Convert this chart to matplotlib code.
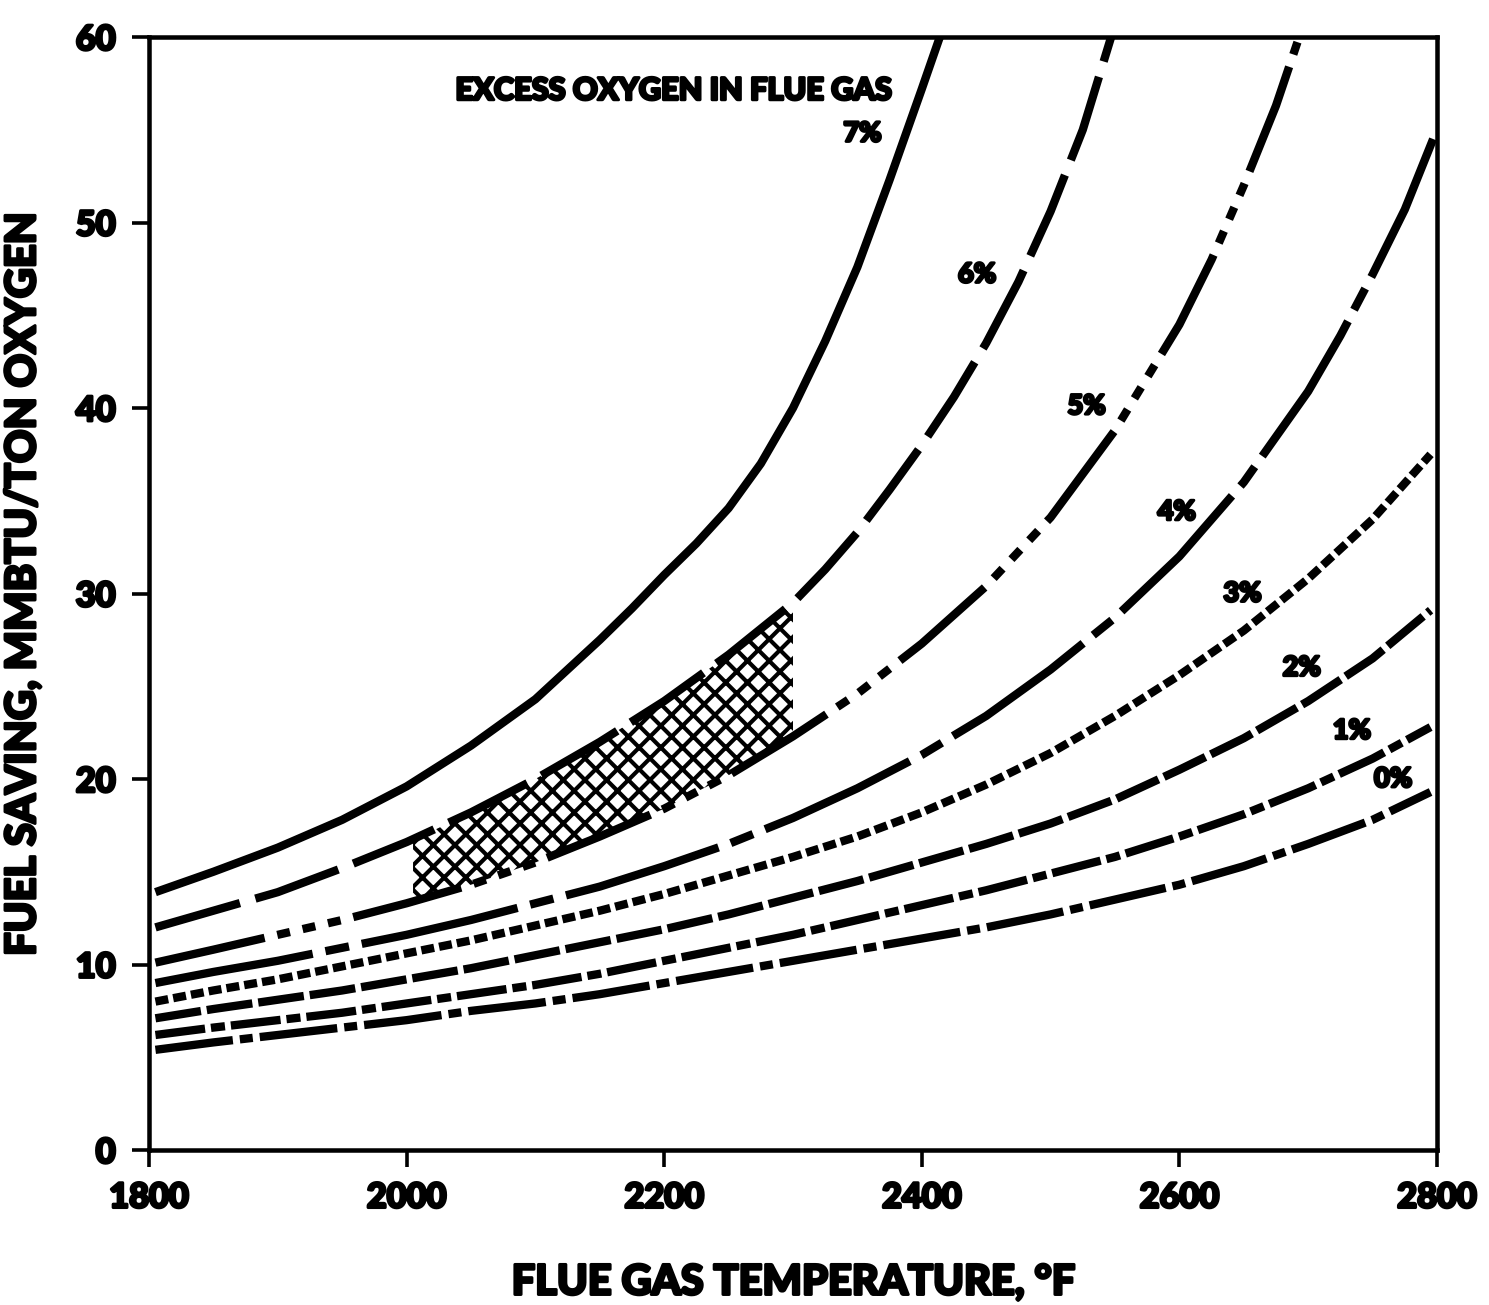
import matplotlib
matplotlib.use("Agg")
import matplotlib.pyplot as plt
import matplotlib.patheffects as pe

plt.rcParams["font.family"] = ["Lato", "DejaVu Sans"]
plt.rcParams["font.weight"] = "black"
plt.rcParams["axes.labelweight"] = "black"
plt.rcParams["hatch.linewidth"] = 2.3
plt.rcParams["lines.scale_dashes"] = False

# flue gas temperature (F) vs fuel saving (MMBtu/ton O2), per excess O2 level
temps = [1805, 1850, 1900, 1950, 2000, 2050, 2100, 2150, 2200, 2250, 2300,
         2350, 2400, 2450, 2500, 2550, 2600, 2650, 2700, 2750, 2795]
temp_7 = [1805, 1850, 1900, 1950, 2000, 2050, 2100, 2150, 2175, 2200, 2225,
          2250, 2275, 2300, 2325, 2350, 2375, 2400, 2414]
save_7 = [13.9, 15.0, 16.3, 17.8, 19.6, 21.8, 24.3, 27.5, 29.2, 31.0, 32.7,
          34.6, 37.0, 40.0, 43.6, 47.6, 52.3, 57.2, 60.0]
temp_6 = [1805, 1850, 1900, 1950, 2000, 2050, 2100, 2150, 2200, 2250, 2300,
          2325, 2350, 2375, 2400, 2425, 2450, 2475, 2500, 2525, 2547]
save_6 = [12.0, 12.9, 13.9, 15.2, 16.6, 18.2, 20.0, 22.0, 24.2, 26.7, 29.5,
          31.3, 33.3, 35.6, 38.0, 40.6, 43.5, 46.8, 50.6, 55.0, 60.0]
temp_5 = [1805, 1850, 1900, 1950, 2000, 2050, 2100, 2150, 2200, 2250, 2300,
          2350, 2400, 2450, 2500, 2550, 2600, 2625, 2650, 2675, 2693]
save_5 = [10.1, 10.8, 11.6, 12.4, 13.3, 14.3, 15.5, 16.9, 18.4, 20.2, 22.3,
          24.6, 27.3, 30.4, 34.1, 38.8, 44.5, 48.0, 52.0, 56.3, 60.0]
temp_4 = [1805, 1850, 1900, 1950, 2000, 2050, 2100, 2150, 2200, 2250, 2300,
          2350, 2400, 2450, 2500, 2550, 2600, 2650, 2700, 2725, 2750, 2775, 2797]
save_4 = [9.0, 9.6, 10.2, 10.9, 11.6, 12.4, 13.3, 14.2, 15.3, 16.5, 17.9,
          19.5, 21.3, 23.4, 25.9, 28.7, 32.0, 36.0, 40.9, 43.9, 47.2, 50.7, 54.5]
save_3 = [8.0, 8.6, 9.2, 9.9, 10.6, 11.3, 12.1, 12.9, 13.8, 14.8, 15.8,
          16.9, 18.2, 19.7, 21.4, 23.4, 25.6, 28.0, 30.8, 34.0, 37.5]
save_2 = [7.1, 7.6, 8.1, 8.6, 9.2, 9.8, 10.5, 11.2, 11.9, 12.7, 13.6,
          14.5, 15.5, 16.5, 17.6, 18.9, 20.5, 22.2, 24.2, 26.5, 29.1]
save_1 = [6.2, 6.6, 7.0, 7.4, 7.9, 8.4, 8.9, 9.5, 10.2, 10.9, 11.6,
          12.4, 13.2, 14.0, 14.9, 15.8, 16.9, 18.1, 19.5, 21.1, 22.8]
save_0 = [5.4, 5.8, 6.2, 6.6, 7.0, 7.5, 7.9, 8.4, 9.0, 9.6, 10.2,
          10.8, 11.4, 12.0, 12.7, 13.5, 14.3, 15.3, 16.5, 17.8, 19.3]

# cross-hatched operating zone between the 6% and 5% curves
hatch_temp = [2005, 2050, 2100, 2150, 2200, 2250, 2300]
hatch_top = [16.7, 18.2, 20.0, 22.0, 24.2, 26.7, 29.5]
hatch_bottom = [13.4, 14.3, 15.5, 16.9, 18.4, 20.2, 22.3]

pct_labels = ["7%", "6%", "5%", "4%", "3%", "2%", "1%", "0%"]
label_pos = [(2354, 54.8), (2443, 47.2), (2528, 40.1), (2598, 34.4),
             (2649, 30.0), (2695, 26.0), (2734, 22.6), (2766, 20.0)]

curves = [
    (temp_7, save_7, None),
    (temp_6, save_6, (48.7, 8.9)),
    (temp_5, save_5, (62, 7.2, 7.2, 7.2, 7.2, 7.2, 7.2, 7.2)),
    (temp_4, save_4, (88.6, 7.2, 13.3, 7.2)),
    (temps, save_3, (7.2, 2.8)),
    (temps, save_2, (25.5, 3.3)),
    (temps, save_1, (27.7, 3.3, 7.8, 3.3)),
    (temps, save_0, (43.2, 3.9, 7.2, 3.9)),
]

heavy = [pe.withStroke(linewidth=1.6, foreground="black")]

fig = plt.figure(figsize=(1489 / 130, 1305 / 130), dpi=130)
ax = fig.add_axes([149 / 1489, 1 - 1150 / 1305, 1288 / 1489, 1113 / 1305])

ax.fill_between(hatch_temp, hatch_bottom, hatch_top, facecolor="white",
                edgecolor="black", hatch="xx", linewidth=0, zorder=1)

for t, s, dash in curves:
    if dash is None:
        ax.plot(t, s, color="black", lw=4.6, solid_capstyle="butt", zorder=3)
    else:
        ax.plot(t, s, color="black", lw=4.6, dashes=dash,
                dash_capstyle="butt", zorder=3)

for txt, (x, y) in zip(pct_labels, label_pos):
    ax.text(x, y, txt, fontsize=15, fontweight="black", ha="center",
            va="center", path_effects=heavy)

ax.text(2377, 57.1, "EXCESS OXYGEN IN FLUE GAS", fontsize=17,
        fontweight="black", ha="right", va="center", path_effects=heavy)

ax.set_xlim(1800, 2800)
ax.set_ylim(0, 60)
ax.set_xticks([1800, 2000, 2200, 2400, 2600, 2800])
ax.set_yticks([0, 10, 20, 30, 40, 50, 60])
ax.tick_params(direction="out", length=9.5, width=2, labelsize=19, pad=8)
ax.tick_params(axis="y", pad=9)
for lab in ax.get_xticklabels() + ax.get_yticklabels():
    lab.set_fontweight("black")
    lab.set_path_effects(heavy)
for sp in ax.spines.values():
    sp.set_linewidth(2.5)

ax.set_xlabel("FLUE GAS TEMPERATURE, °F", fontsize=23, path_effects=heavy)
ax.set_ylabel("FUEL SAVING, MMBTU/TON OXYGEN", fontsize=23, path_effects=heavy)
ax.xaxis.set_label_coords(0.5, -0.102)
ax.yaxis.set_label_coords(-0.083, 0.508)

fig.savefig("out.png", dpi=130)
